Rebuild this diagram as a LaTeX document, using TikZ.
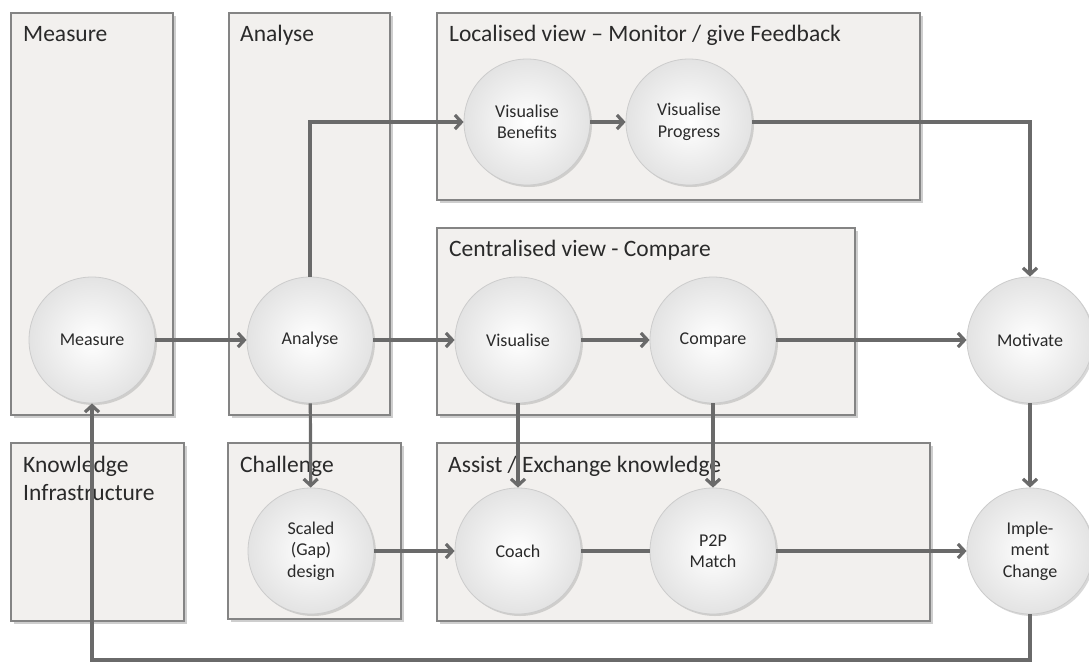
\documentclass[tikz,border=0pt]{standalone}
\usepackage{fontspec}
\setmainfont{Carlito}
\usetikzlibrary{arrows.meta,shadows}
\definecolor{boxfill}{HTML}{F2F0EE}
\definecolor{boxline}{HTML}{848484}
\definecolor{conn}{HTML}{6A6A6A}
\definecolor{txt}{HTML}{2A2A2A}
\begin{document}
\begin{tikzpicture}[x=1pt,y=-1pt,
  panel/.style={draw=boxline,line width=1.8pt,fill=boxfill,
    drop shadow={shadow xshift=2.5pt,shadow yshift=-2.5pt,opacity=0.35,fill=black!55}},
  paneltitle/.style={anchor=base west,inner sep=0pt,font=\fontsize{23.5}{28}\selectfont,text=txt,align=left},
  bubble/.style={circle,minimum size=126pt,inner sep=0pt,draw=black!20,line width=0.8pt,
    inner color=white,outer color=black!11,
    drop shadow={shadow xshift=2pt,shadow yshift=-2pt,opacity=0.3,fill=black!50},
    font=\fontsize{18}{21.5}\selectfont,text=txt,align=center},
  link/.style={draw=conn,line width=3.2pt},
  arr/.style={link,-{Straight Barb[length=6.5pt,width=14pt]}}]
\useasboundingbox (0,0) rectangle (1089,664);
\fill[white] (0,0) rectangle (1089,664);
% panels
\draw[panel] (11,13) rectangle (173,415);
\draw[panel] (229,13) rectangle (390,415);
\draw[panel] (437,13) rectangle (920,200);
\draw[panel] (437,228) rectangle (855,415);
\draw[panel] (11,443) rectangle (184,621);
\draw[panel] (228,443) rectangle (401,619);
\draw[panel] (437,443) rectangle (930,621);
% titles
\node[paneltitle] (tmeas) at (23,41) {Measure};
\node[paneltitle] (tan) at (240,41) {Analyse};
\node[paneltitle] (tloc) at (449,41) {Localised view -- Monitor / give Feedback};
\node[paneltitle] (tcen) at (449,256) {Centralised view - Compare};
\node[paneltitle] (tkno) at (23,500) {Knowledge\\Infrastructure};
\node[paneltitle] (tcha) at (240,472) {Challenge};
\node[paneltitle] (tass) at (448,472) {Assist / Exchange knowledge};
% bubbles
\node[bubble] (meas) at (92,340) {Measure};
\node[bubble] (an) at (310,340) {Analyse};
\node[bubble] (vb) at (527,122) {Visualise\\Benefits};
\node[bubble] (vp) at (689,122) {Visualise\\Progress};
\node[bubble] (vis) at (518,340) {Visualise};
\node[bubble] (cmp) at (713,340) {Compare};
\node[bubble] (mot) at (1030,340) {Motivate};
\node[bubble] (sc) at (311,551) {Scaled\\(Gap)\\design};
\node[bubble] (coach) at (518,551) {Coach};
\node[bubble] (p2p) at (713,551) {P2P\\Match};
\node[bubble] (imp) at (1030,551) {Imple-\\ment\\Change};
% connectors
\draw[arr] (meas) -- (an);
\draw[arr] (an) -- (vis);
\draw[arr] (an.north) |- (vb);
\draw[arr] (vb) -- (vp);
\draw[arr] (vp) -| (mot);
\draw[arr] (vis) -- (cmp);
\draw[arr] (cmp) -- (mot);
\draw[arr] (an) -- (sc);
\draw[arr] (vis) -- (coach);
\draw[arr] (cmp) -- (p2p);
\draw[arr] (mot) -- (imp);
\draw[arr] (sc) -- (coach);
\draw[link] (coach) -- (p2p);
\draw[arr] (p2p) -- (imp);
\coordinate (fb) at (1030,660);
\draw[arr] (imp.south) -- (fb) -| (meas.south);
\end{tikzpicture}
\end{document}
